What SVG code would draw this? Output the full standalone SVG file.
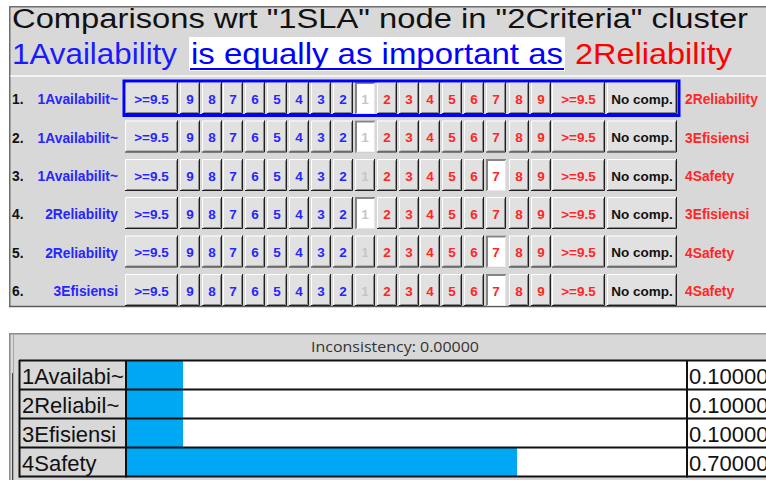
<svg xmlns="http://www.w3.org/2000/svg" width="766" height="480" viewBox="0 0 766 480">
<style>
  text { font-family: "Liberation Sans", Arial, sans-serif; }
  .b { font-weight: bold; font-size: 13.5px; text-anchor: middle; }
  .lab { font-weight: bold; font-size: 13.8px; }
  .bl { fill: #2626ff; }
  .rd { fill: #ff2626; }
  .gy { fill: #c6c6c6; }
  .bk { fill: #111; }
  .tbl { font-size: 22px; fill: #111; }
  .edge { fill: none; }
</style>
<defs>
  <!-- raised buttons -->
  <g id="r20">
    <rect width="20" height="32" fill="#e1e1e1"/>
    <path class="edge" d="M0.5 31.5V0.5H19.5" stroke="#fff"/>
    <path class="edge" d="M1.5 30.5H18.5V1.5" stroke="#8c8c8c"/>
    <path class="edge" d="M0 31.5H19.5V0" stroke="#1e1e1e"/>
  </g>
  <g id="r53">
    <rect width="53" height="32" fill="#e1e1e1"/>
    <path class="edge" d="M0.5 31.5V0.5H52.5" stroke="#fff"/>
    <path class="edge" d="M1.5 30.5H51.5V1.5" stroke="#8c8c8c"/>
    <path class="edge" d="M0 31.5H52.5V0" stroke="#1e1e1e"/>
  </g>
  <g id="r70">
    <rect width="70" height="32" fill="#e1e1e1"/>
    <path class="edge" d="M0.5 31.5V0.5H69.5" stroke="#fff"/>
    <path class="edge" d="M1.5 30.5H68.5V1.5" stroke="#8c8c8c"/>
    <path class="edge" d="M0 31.5H69.5V0" stroke="#1e1e1e"/>
  </g>
  <!-- pressed button -->
  <g id="s20">
    <rect width="20" height="32" fill="#fff"/>
    <path class="edge" d="M1 32V1H20" stroke="#858585" stroke-width="2"/>
    <path class="edge" d="M19.5 1V31.5H1" stroke="#e6e6e6"/>
  </g>
  <!-- one row of scale buttons -->
  <g id="btns">
    <use href="#r53" x="125"/>
    <use href="#r20" x="180"/>
    <use href="#r20" x="202"/>
    <use href="#r20" x="223"/>
    <use href="#r20" x="245"/>
    <use href="#r20" x="267"/>
    <use href="#r20" x="289"/>
    <use href="#r20" x="311"/>
    <use href="#r20" x="333"/>
    <use href="#r20" x="355"/>
    <use href="#r20" x="377"/>
    <use href="#r20" x="399"/>
    <use href="#r20" x="420"/>
    <use href="#r20" x="442"/>
    <use href="#r20" x="464"/>
    <use href="#r20" x="486"/>
    <use href="#r20" x="509"/>
    <use href="#r20" x="531"/>
    <use href="#r53" x="552"/>
    <use href="#r70" x="607"/>
  </g>
  <!-- button captions -->
  <g id="caps">
    <text class="b bl" x="151.5" y="21.5">&gt;=9.5</text>
    <text class="b bl" x="190" y="21.5">9</text>
    <text class="b bl" x="212" y="21.5">8</text>
    <text class="b bl" x="233" y="21.5">7</text>
    <text class="b bl" x="255" y="21.5">6</text>
    <text class="b bl" x="277" y="21.5">5</text>
    <text class="b bl" x="299" y="21.5">4</text>
    <text class="b bl" x="321" y="21.5">3</text>
    <text class="b bl" x="343" y="21.5">2</text>
    <text class="b gy" x="365" y="21.5">1</text>
    <text class="b rd" x="387" y="21.5">2</text>
    <text class="b rd" x="409" y="21.5">3</text>
    <text class="b rd" x="430" y="21.5">4</text>
    <text class="b rd" x="452" y="21.5">5</text>
    <text class="b rd" x="474" y="21.5">6</text>
    <text class="b rd" x="496" y="21.5">7</text>
    <text class="b rd" x="519" y="21.5">8</text>
    <text class="b rd" x="541" y="21.5">9</text>
    <text class="b rd" x="578.5" y="21.5">&gt;=9.5</text>
    <text class="b bk" x="642" y="21.5">No comp.</text>
  </g>
</defs>

<!-- comparison panel -->
<g id="panel-top">
  <rect x="0" y="0" width="766" height="480" fill="#fff"/>
  <rect x="9" y="6" width="757" height="301" fill="#d8d8d8"/>
  <path class="edge" d="M9.75 307V6.75H766" stroke="#6e6e6e" stroke-width="1.5"/>
  <line x1="9" y1="306.5" x2="766" y2="306.5" stroke="#5a5a5a" stroke-width="1.5"/>
  <rect x="10.5" y="75" width="756" height="2" fill="#f4f4f4"/>
</g>

<g id="title">
  <text x="12" y="27.5" font-size="27" fill="#111" textLength="736" lengthAdjust="spacingAndGlyphs">Comparisons wrt "1SLA" node in "2Criteria" cluster</text>
  <rect x="189" y="37" width="376" height="34" fill="#fff"/>
  <text x="12" y="63.5" font-size="29" fill="#1a1aff" textLength="165" lengthAdjust="spacingAndGlyphs">1Availability</text>
  <text x="191" y="63.5" font-size="29" fill="#0000ff" textLength="372" lengthAdjust="spacingAndGlyphs">is equally as important as</text>
  <line x1="190" y1="69" x2="564" y2="69" stroke="#0000ff" stroke-width="2"/>
  <text x="575" y="63.5" font-size="29" fill="#ff0000" textLength="157" lengthAdjust="spacingAndGlyphs">2Reliability</text>
</g>

<g id="row1" transform="translate(0,82)">
  <text class="lab bk" x="12" y="22">1.</text>
  <text class="lab bl" x="118" y="22" text-anchor="end">1Availabilit~</text>
  <use href="#btns"/>
  <use href="#s20" x="355"/>
  <use href="#caps"/>
  <text class="lab rd" x="685" y="22">2Reliability</text>
</g>
<g id="row2" transform="translate(0,120.5)">
  <text class="lab bk" x="12" y="22">2.</text>
  <text class="lab bl" x="118" y="22" text-anchor="end">1Availabilit~</text>
  <use href="#btns"/>
  <use href="#s20" x="355"/>
  <use href="#caps"/>
  <text class="lab rd" x="685" y="22">3Efisiensi</text>
</g>
<g id="row3" transform="translate(0,159)">
  <text class="lab bk" x="12" y="22">3.</text>
  <text class="lab bl" x="118" y="22" text-anchor="end">1Availabilit~</text>
  <use href="#btns"/>
  <use href="#s20" x="486"/>
  <use href="#caps"/>
  <text class="lab rd" x="685" y="22">4Safety</text>
</g>
<g id="row4" transform="translate(0,197)">
  <text class="lab bk" x="12" y="22">4.</text>
  <text class="lab bl" x="118" y="22" text-anchor="end">2Reliability</text>
  <use href="#btns"/>
  <use href="#s20" x="355"/>
  <use href="#caps"/>
  <text class="lab rd" x="685" y="22">3Efisiensi</text>
</g>
<g id="row5" transform="translate(0,235.5)">
  <text class="lab bk" x="12" y="22">5.</text>
  <text class="lab bl" x="118" y="22" text-anchor="end">2Reliability</text>
  <use href="#btns"/>
  <use href="#s20" x="486"/>
  <use href="#caps"/>
  <text class="lab rd" x="685" y="22">4Safety</text>
</g>
<g id="row6" transform="translate(0,274)">
  <text class="lab bk" x="12" y="22">6.</text>
  <text class="lab bl" x="118" y="22" text-anchor="end">3Efisiensi</text>
  <use href="#btns"/>
  <use href="#s20" x="486"/>
  <use href="#caps"/>
  <text class="lab rd" x="685" y="22">4Safety</text>
</g>

<!-- focus frame on the current pair -->
<rect id="focus" x="124" y="81" width="555" height="34.5" fill="none" stroke="#0000ff" stroke-width="3"/>

<!-- priorities panel -->
<g id="panel-bottom">
  <rect x="9" y="333" width="757" height="147" fill="#d8d8d8"/>
  <line x1="9" y1="333.75" x2="766" y2="333.75" stroke="#8a8a8a" stroke-width="1.5"/>
  <line x1="9.75" y1="333" x2="9.75" y2="480" stroke="#8a8a8a" stroke-width="1.5"/>
  <line x1="13.5" y1="334" x2="13.5" y2="480" stroke="#a8a8a8"/>
  <line x1="12.5" y1="373" x2="12.5" y2="480" stroke="#444"/>
  <text x="395" y="352" font-size="15" fill="#333" text-anchor="middle" textLength="168" lengthAdjust="spacingAndGlyphs" style="font-family:'Open Sans','Noto Sans',sans-serif">Inconsistency: 0.00000</text>

  <rect x="127" y="360" width="560" height="117" fill="#fff"/>
  <rect x="688" y="360" width="78" height="117" fill="#fff"/>
  <rect x="127" y="361" width="56" height="28" fill="#00a8f3"/>
  <rect x="127" y="390" width="56" height="28" fill="#00a8f3"/>
  <rect x="127" y="419" width="56" height="28" fill="#00a8f3"/>
  <rect x="127" y="448" width="390" height="29" fill="#00a8f3"/>

  <g stroke="#111" stroke-width="2" fill="none">
    <path d="M19 360.5H766M19 389.5H766M19 418.5H766M19 447.5H766M19 476.5H766"/>
    <path d="M19.5 360V477.5M126 360V477.5M687 360V477.5"/>
  </g>

  <text class="tbl" x="22" y="383.5">1Availabi~</text>
  <text class="tbl" x="22" y="412.5">2Reliabil~</text>
  <text class="tbl" x="22" y="441.5">3Efisiensi</text>
  <text class="tbl" x="22" y="470.5">4Safety</text>
  <text class="tbl" x="689" y="383.5">0.10000</text>
  <text class="tbl" x="689" y="412.5">0.10000</text>
  <text class="tbl" x="689" y="441.5">0.10000</text>
  <text class="tbl" x="689" y="470.5">0.70000</text>
</g>
</svg>
